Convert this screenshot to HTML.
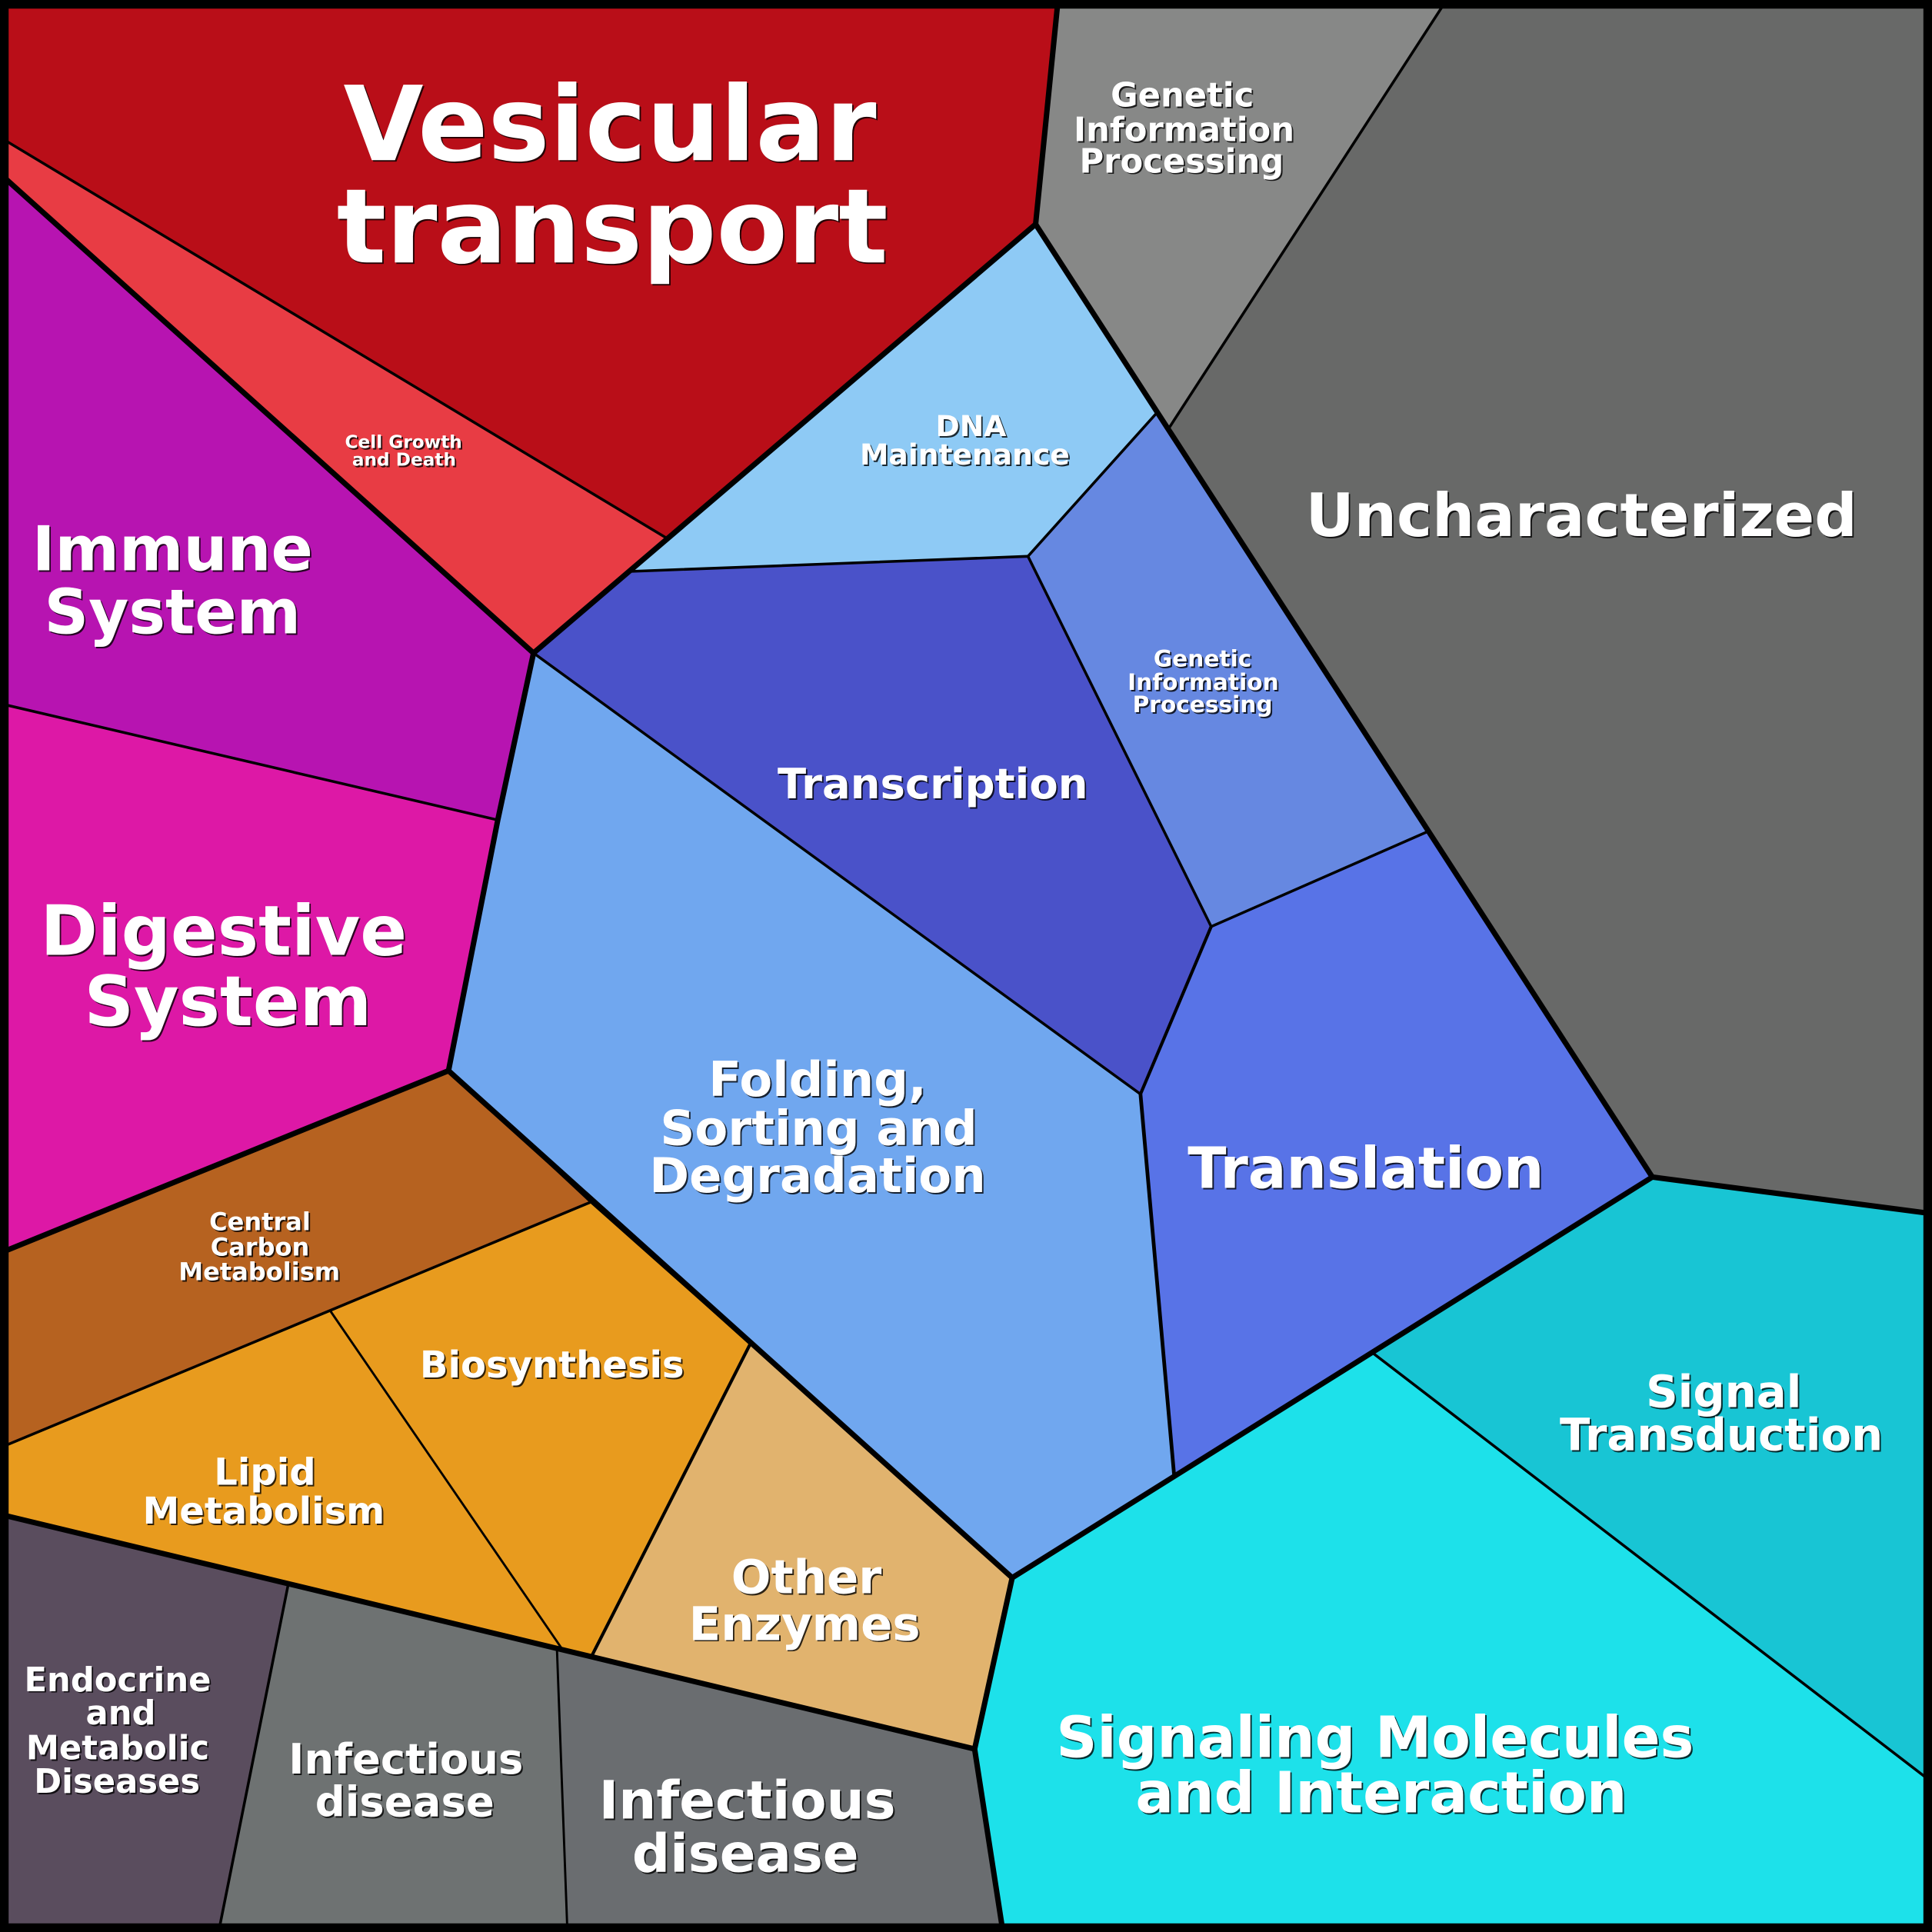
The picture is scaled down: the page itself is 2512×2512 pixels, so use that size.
<!DOCTYPE html>
<html><head><meta charset="utf-8"><style>
html,body{margin:0;padding:0;background:#000;}
svg{display:block;}
text{font-family:"DejaVu Sans","Liberation Sans",sans-serif;font-weight:bold;text-anchor:middle;}
.s{fill:#000;fill-opacity:0.8;}
.w{fill:#fff;}
</style></head><body>
<svg xmlns="http://www.w3.org/2000/svg" width="2512" height="2512" viewBox="0 0 1568 1568">
<!-- regions -->
<polygon fill="#b90e18" points="0,0 859,0 840.5,182 541.5,437 0,111.4"/>
<polygon fill="#e83c44" points="0,111.4 541.5,437 433,530 0,141"/>
<polygon fill="#b714b1" points="0,141 433,530 404,665.5 0,571"/>
<polygon fill="#dd18a6" points="0,571 404,665.5 364,869 0,1017"/>
<polygon fill="#b66220" points="0,1017 364,869 478.5,976 268.5,1064.5 0,1175"/>
<polygon fill="#e89b1e" points="268.5,1064.5 478.5,976 608.5,1091.5 480.5,1343.5 456,1338"/>
<polygon fill="#e89b1e" points="0,1175 268.5,1064.5 456,1338 0,1229"/>
<polygon fill="#e1b36e" points="608.5,1091.5 821.5,1280.5 791,1419.5 480.5,1343.5"/>
<polygon fill="#5a4d5e" points="0,1229 234,1285.5 177.4,1568 0,1568"/>
<polygon fill="#6e7272" points="234,1285.5 452,1338 460.5,1568 177.4,1568"/>
<polygon fill="#6a6d70" points="452,1338 791,1419.5 814,1568 460.5,1568"/>
<polygon fill="#70a7ef" points="433,530 925.6,888 952.8,1196 821.5,1280.5 364,869 404,665.5"/>
<polygon fill="#4a52c9" points="513,463.7 834.3,451.5 983,752 925.6,888 433,530"/>
<polygon fill="#8ecaf5" points="840.5,182 938,336 834.3,451.5 513,463.7 541.5,437"/>
<polygon fill="#6688e1" points="938,336 1157.6,675.4 983,752 834.3,451.5"/>
<polygon fill="#5873e7" points="983,752 1157.6,675.4 1341,955.3 952.8,1196 925.6,888"/>
<polygon fill="#878887" points="859,0 1174,0 949,347 840.5,182"/>
<polygon fill="#686968" points="1174,0 1568,0 1568,985 1341,955.3 949,347"/>
<polygon fill="#18c5d4" points="1341,955.3 1568,985 1568,1446.4 1114.7,1098.5"/>
<polygon fill="#1de1ea" points="1114.7,1098.5 1568,1446.4 1568,1568 814,1568 791,1419.5 821.5,1280.5 952.8,1196"/>

<!-- thin lines -->
<g stroke="#000" stroke-width="2.2" stroke-linecap="round" fill="none">
<line x1="0" y1="111.4" x2="541.5" y2="437"/>
<line x1="513" y1="463.7" x2="834.3" y2="451.5"/>
<line x1="834.3" y1="451.5" x2="938" y2="336"/>
<line x1="834.3" y1="451.5" x2="983" y2="752"/>
<line x1="983" y1="752" x2="1157.6" y2="675.4"/>
<line x1="433" y1="530" x2="925.6" y2="888"/>
<line x1="1174" y1="0" x2="949" y2="347"/>
<line x1="1114.7" y1="1098.5" x2="1568" y2="1446.4"/>
<line x1="404" y1="665.5" x2="0" y2="571"/>
<line x1="478.5" y1="976" x2="0" y2="1175"/>
<line x1="268.5" y1="1064.5" x2="456" y2="1338" stroke-width="1.8"/>
<line x1="608.5" y1="1091.5" x2="480.5" y2="1343.5" stroke-width="2.6"/>
<line x1="234" y1="1285.5" x2="177.4" y2="1568"/>
<line x1="452" y1="1338" x2="460.5" y2="1568" stroke-width="1.8"/>
<line x1="983" y1="752" x2="925.6" y2="888" stroke-width="2.6"/>
<line x1="925.6" y1="888" x2="952.8" y2="1196" stroke-width="3"/>
</g>
<!-- thick lines -->
<g stroke="#000" stroke-width="4.4" stroke-linecap="round" stroke-linejoin="round" fill="none">
<line x1="0" y1="141" x2="433" y2="530"/>
<line x1="840.5" y1="182" x2="433" y2="530"/>
<line x1="858.7" y1="0" x2="840.5" y2="182"/>
<line x1="840.5" y1="182" x2="1341" y2="955.3"/>
<line x1="1341" y1="955.3" x2="1568" y2="985"/>
<line x1="1341" y1="955.3" x2="821.5" y2="1280.5"/>
<polyline points="433,530 404,665.5 364,869"/>
<line x1="364" y1="869" x2="0" y2="1017"/>
<line x1="364" y1="869" x2="821.5" y2="1280.5"/>
<polyline points="821.5,1280.5 791,1419.5 814,1568"/>
<line x1="0" y1="1229" x2="791" y2="1419.5"/>
</g>
<!-- border -->
<rect x="0" y="0" width="1568" height="1568" fill="none" stroke="#000" stroke-width="14"/>

<!-- labels: shadow -->
<g class="s" transform="translate(1.2,1.2)">
<text font-size="84"><tspan x="495" y="130">Vesicular</tspan><tspan x="497" y="213">transport</tspan></text>
<text font-size="48.5" x="1283.5" y="435">Uncharacterized</text>
<text font-size="50"><tspan x="140" y="463">Immune</tspan><tspan x="140" y="514">System</tspan></text>
<text font-size="56"><tspan x="181.5" y="775">Digestive</tspan><tspan x="185" y="832">System</tspan></text>
<text font-size="34" x="757" y="648">Transcription</text>
<text font-size="46" x="1108.5" y="964">Translation</text>
<text font-size="39"><tspan x="663.5" y="889.5">Folding,</tspan><tspan x="664.5" y="929">Sorting and</tspan><tspan x="663.5" y="967.5">Degradation</tspan></text>
<text font-size="36"><tspan x="1399" y="1142">Signal</tspan><tspan x="1397" y="1177">Transduction</tspan></text>
<text font-size="46"><tspan x="1116" y="1426">Signaling Molecules</tspan><tspan x="1121" y="1471">and Interaction</tspan></text>
<text font-size="43"><tspan x="606.5" y="1476">Infectious</tspan><tspan x="605" y="1519">disease</tspan></text>
<text font-size="34"><tspan x="329.5" y="1439.5">Infectious</tspan><tspan x="328.5" y="1474">disease</tspan></text>
<text font-size="27"><tspan x="95.5" y="1372.5">Endocrine</tspan><tspan x="98" y="1399.5">and</tspan><tspan x="95.5" y="1428">Metabolic</tspan><tspan x="95" y="1455">Diseases</tspan></text>
<text font-size="38"><tspan x="654.5" y="1293">Other</tspan><tspan x="653" y="1331">Enzymes</tspan></text>
<text font-size="30" x="448" y="1118">Biosynthesis</text>
<text font-size="30"><tspan x="215" y="1205">Lipid</tspan><tspan x="214" y="1236.5">Metabolism</tspan></text>
<text font-size="20"><tspan x="211" y="998.5">Central</tspan><tspan x="211" y="1019">Carbon</tspan><tspan x="210.5" y="1039">Metabolism</tspan></text>
<text font-size="27"><tspan x="959.5" y="86.5">Genetic</tspan><tspan x="961" y="114.5">Information</tspan><tspan x="959" y="140">Processing</tspan></text>
<text font-size="18.5"><tspan x="976" y="541">Genetic</tspan><tspan x="976.5" y="560">Information</tspan><tspan x="976" y="578">Processing</tspan></text>
<text font-size="23.5"><tspan x="788" y="354">DNA</tspan><tspan x="783" y="377">Maintenance</tspan></text>
<text font-size="14.5"><tspan x="327.5" y="363.5">Cell Growth</tspan><tspan x="328" y="378">and Death</tspan></text>
</g>
<!-- labels: white -->
<g class="w">
<text font-size="84"><tspan x="495" y="130">Vesicular</tspan><tspan x="497" y="213">transport</tspan></text>
<text font-size="48.5" x="1283.5" y="435">Uncharacterized</text>
<text font-size="50"><tspan x="140" y="463">Immune</tspan><tspan x="140" y="514">System</tspan></text>
<text font-size="56"><tspan x="181.5" y="775">Digestive</tspan><tspan x="185" y="832">System</tspan></text>
<text font-size="34" x="757" y="648">Transcription</text>
<text font-size="46" x="1108.5" y="964">Translation</text>
<text font-size="39"><tspan x="663.5" y="889.5">Folding,</tspan><tspan x="664.5" y="929">Sorting and</tspan><tspan x="663.5" y="967.5">Degradation</tspan></text>
<text font-size="36"><tspan x="1399" y="1142">Signal</tspan><tspan x="1397" y="1177">Transduction</tspan></text>
<text font-size="46"><tspan x="1116" y="1426">Signaling Molecules</tspan><tspan x="1121" y="1471">and Interaction</tspan></text>
<text font-size="43"><tspan x="606.5" y="1476">Infectious</tspan><tspan x="605" y="1519">disease</tspan></text>
<text font-size="34"><tspan x="329.5" y="1439.5">Infectious</tspan><tspan x="328.5" y="1474">disease</tspan></text>
<text font-size="27"><tspan x="95.5" y="1372.5">Endocrine</tspan><tspan x="98" y="1399.5">and</tspan><tspan x="95.5" y="1428">Metabolic</tspan><tspan x="95" y="1455">Diseases</tspan></text>
<text font-size="38"><tspan x="654.5" y="1293">Other</tspan><tspan x="653" y="1331">Enzymes</tspan></text>
<text font-size="30" x="448" y="1118">Biosynthesis</text>
<text font-size="30"><tspan x="215" y="1205">Lipid</tspan><tspan x="214" y="1236.5">Metabolism</tspan></text>
<text font-size="20"><tspan x="211" y="998.5">Central</tspan><tspan x="211" y="1019">Carbon</tspan><tspan x="210.5" y="1039">Metabolism</tspan></text>
<text font-size="27"><tspan x="959.5" y="86.5">Genetic</tspan><tspan x="961" y="114.5">Information</tspan><tspan x="959" y="140">Processing</tspan></text>
<text font-size="18.5"><tspan x="976" y="541">Genetic</tspan><tspan x="976.5" y="560">Information</tspan><tspan x="976" y="578">Processing</tspan></text>
<text font-size="23.5"><tspan x="788" y="354">DNA</tspan><tspan x="783" y="377">Maintenance</tspan></text>
<text font-size="14.5"><tspan x="327.5" y="363.5">Cell Growth</tspan><tspan x="328" y="378">and Death</tspan></text>
</g>
</svg>
</body></html>
